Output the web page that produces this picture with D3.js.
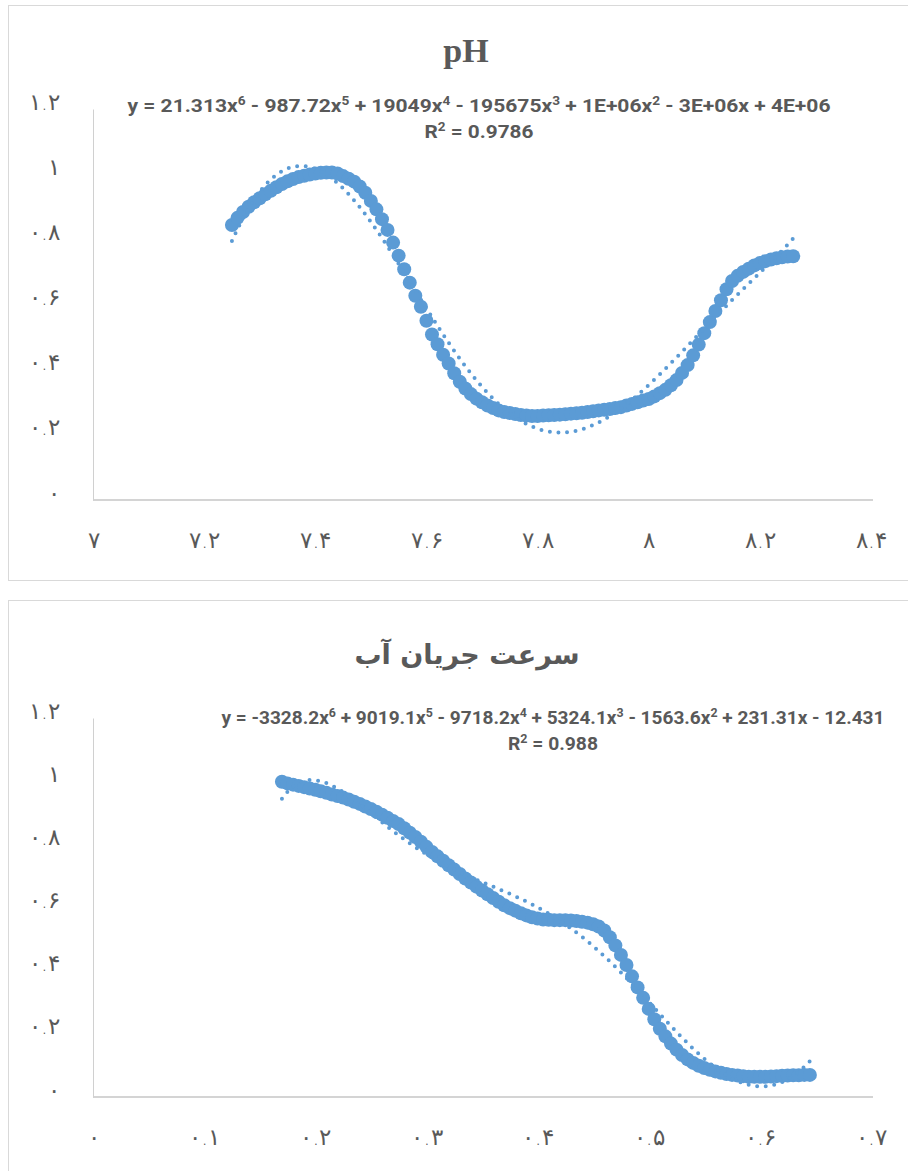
<!DOCTYPE html>
<html>
<head>
<meta charset="utf-8">
<script src="https://cdn.jsdelivr.net/npm/d3@7"></script>
<style>
  body { margin: 0; background: #fff; }
</style>
</head>
<body>
<div id="wrapper"></div>
<script>
// pH chart
const phX = [7.25,7.26,7.27,7.28,7.29,7.30,7.31,7.32,7.33,7.34,
  7.35,7.36,7.37,7.38,7.39,7.40,7.41,7.42,7.43,7.44,
  7.45,7.46,7.47,7.48,7.49,7.50,7.51,7.52,7.53,7.54,
  7.55,7.56,7.57,7.58,7.59,7.60,7.61,7.62,7.63,7.64,
  7.65,7.66,7.67,7.68,7.69,7.70,7.71,7.72,7.73,7.74,
  7.75,7.76,7.77,7.78,7.79,7.80,7.81,7.82,7.83,7.84,
  7.85,7.86,7.87,7.88,7.89,7.90,7.91,7.92,7.93,7.94,
  7.95,7.96,7.97,7.98,7.99,8.00,8.01,8.02,8.03,8.04,
  8.05,8.06,8.07,8.08,8.09,8.10,8.11,8.12,8.13,8.14,
  8.15,8.16,8.17,8.18,8.19,8.20,8.21,8.22,8.23,8.24,
  8.25,8.26]
const phY = [0.844,0.866,0.884,0.900,0.914,0.926,0.938,0.949,0.960,0.970,
  0.978,0.985,0.991,0.995,0.999,1.002,1.004,1.005,1.005,1.002,
  0.994,0.986,0.977,0.962,0.943,0.918,0.892,0.862,0.829,0.790,
  0.750,0.708,0.667,0.627,0.593,0.550,0.508,0.478,0.446,0.419,
  0.389,0.363,0.342,0.325,0.311,0.300,0.290,0.282,0.275,0.270,
  0.267,0.264,0.261,0.259,0.258,0.258,0.259,0.260,0.261,0.262,
  0.263,0.265,0.266,0.268,0.270,0.272,0.275,0.277,0.279,0.282,
  0.285,0.290,0.295,0.300,0.305,0.310,0.318,0.328,0.338,0.352,
  0.368,0.390,0.414,0.444,0.477,0.512,0.546,0.580,0.613,0.647,
  0.672,0.688,0.700,0.710,0.720,0.727,0.733,0.738,0.742,0.745,
  0.747,0.748]

// flow velocity chart
const flowX = [0.170,0.175,0.180,0.185,0.190,0.195,0.200,0.205,0.210,0.215,
  0.220,0.225,0.230,0.235,0.240,0.245,0.250,0.255,0.260,0.265,
  0.270,0.275,0.280,0.285,0.290,0.295,0.300,0.305,0.310,0.315,
  0.320,0.325,0.330,0.335,0.340,0.345,0.350,0.355,0.360,0.365,
  0.370,0.375,0.380,0.385,0.390,0.395,0.400,0.405,0.410,0.415,
  0.420,0.425,0.430,0.435,0.440,0.445,0.450,0.455,0.460,0.465,
  0.470,0.475,0.480,0.485,0.490,0.495,0.500,0.505,0.510,0.515,
  0.520,0.525,0.530,0.535,0.540,0.545,0.550,0.555,0.560,0.565,
  0.570,0.575,0.580,0.585,0.590,0.595,0.600,0.605,0.610,0.615,
  0.620,0.625,0.630,0.635,0.640,0.645]
const flowY = [0.998,0.993,0.989,0.985,0.981,0.977,0.973,0.968,0.963,0.958,
  0.953,0.948,0.942,0.935,0.928,0.920,0.912,0.903,0.894,0.884,
  0.874,0.864,0.851,0.837,0.823,0.808,0.792,0.776,0.762,0.748,
  0.734,0.720,0.706,0.692,0.679,0.666,0.654,0.642,0.630,0.618,
  0.607,0.598,0.590,0.582,0.575,0.569,0.565,0.562,0.561,0.560,
  0.560,0.560,0.559,0.557,0.555,0.552,0.547,0.540,0.527,0.506,
  0.480,0.450,0.418,0.382,0.347,0.314,0.279,0.246,0.216,0.192,
  0.169,0.150,0.133,0.119,0.108,0.099,0.092,0.086,0.081,0.077,
  0.073,0.070,0.068,0.066,0.064,0.064,0.064,0.064,0.065,0.066,
  0.067,0.068,0.069,0.069,0.070,0.070]

const yTicks = [0, 0.2, 0.4, 0.6, 0.8, 1, 1.2]
const phTicks = [7, 7.2, 7.4, 7.6, 7.8, 8, 8.2, 8.4]
const flowTicks = [0, 0.1, 0.2, 0.3, 0.4, 0.5, 0.6, 0.7]

const phTitle = 'pH'
const flowTitle = 'سرعت جریان آب'
const phEquation = 'y = 21.313x^6 - 987.72x^5 + 19049x^4 - 195675x^3 + 1E+06x^2 - 3E+06x + 4E+06'
const phR2 = 'R^2 = 0.9786'
const flowEquation = 'y = -3328.2x^6 + 9019.1x^5 - 9718.2x^4 + 5324.1x^3 - 1563.6x^2 + 231.31x - 12.431'
const flowR2 = 'R^2 = 0.988'

const width = 908
const height = 1171
const blue = '#5b9bd5'
const textColor = '#595959'

const svg = d3.select('#wrapper')
    .append('svg')
    .attr('width', width)
    .attr('height', height)
    .style('display', 'block')
    .style('background-color', '#fff')

const persianDigits = '۰۱۲۳۴۵۶۷۸۹'
const toPersian = (s) => s.replace(/\d/g, (c) => persianDigits[+c])
const tickFormat = (d) => toPersian(d3.format('~g')(d))

// least squares polynomial (same as excel's trendline), x normalised for stability
const polyfit = (xs, ys, deg) => {
    const mx = d3.mean(xs), sx = d3.deviation(xs)
    const n = deg + 1
    const A = d3.range(n).map(() => new Array(n + 1).fill(0))
    xs.forEach((x, i) => {
        const u = (x - mx) / sx
        const pw = d3.range(2 * n).map(k => Math.pow(u, k))
        for (let r = 0; r < n; r++) {
            for (let c = 0; c < n; c++) A[r][c] += pw[r + c]
            A[r][n] += pw[r] * ys[i]
        }
    })
    for (let c = 0; c < n; c++) {
        let p = c
        for (let r = c + 1; r < n; r++) if (Math.abs(A[r][c]) > Math.abs(A[p][c])) p = r
        ;[A[c], A[p]] = [A[p], A[c]]
        for (let r = 0; r < n; r++) {
            if (r === c) continue
            const f = A[r][c] / A[c][c]
            for (let k = c; k <= n; k++) A[r][k] -= f * A[c][k]
        }
    }
    const coef = d3.range(n).map(i => A[i][n] / A[i][i])
    return (x) => {
        const u = (x - mx) / sx
        return coef.reduce((s, c, k) => s + c * Math.pow(u, k), 0)
    }
}

const addRichText = (g, str, x, y, size, targetWidth) => {
    const t = g.append('text')
        .attr('x', x)
        .attr('y', y)
        .attr('text-anchor', 'middle')
        .attr('fill', textColor)
        .style('font-family', '"Liberation Sans Narrow", "Roboto", sans-serif')
        .style('font-weight', 'bold')
        .style('font-size', size + 'px')
    str.split(/\^(\d)/).forEach((part, i) => {
        if (i % 2 === 0) {
            t.append('tspan').text(part).attr('dy', i === 0 ? 0 : size * 0.38)
        } else {
            t.append('tspan').text(part).attr('dy', -size * 0.38).style('font-size', (size * 0.65) + 'px')
        }
    })
    t.attr('textLength', targetWidth).attr('lengthAdjust', 'spacingAndGlyphs')
}

const drawChart = (cfg) => {
    const g = svg.append('g')

    g.append('rect')
        .attr('x', 8.5)
        .attr('y', cfg.top + 0.5)
        .attr('width', 920)
        .attr('height', cfg.boxHeight)
        .attr('fill', '#fff')
        .attr('stroke', '#d9d9d9')

    const scaleX = d3.scaleLinear()
        .domain(cfg.xDomain)
        .range([93, 871])
    const scaleY = d3.scaleLinear()
        .domain([0, 1.2])
        .range([cfg.yBottom, cfg.yTop])

    // axes
    const xAxis = g.append('g')
        .attr('transform', `translate(0, ${cfg.yBottom})`)
        .call(d3.axisBottom(scaleX).tickValues(cfg.xTicks).tickFormat(tickFormat).tickSize(0).tickSizeOuter(0))
    xAxis.select('.domain').attr('stroke', '#c6c6c6').attr('stroke-width', 1.5)
        .attr('d', `M93,0H873`)
    xAxis.selectAll('text')
        .attr('y', 40)
        .attr('dy', '0.35em')

    const yAxis = g.append('g')
        .attr('transform', 'translate(93, 0)')
        .call(d3.axisLeft(scaleY).tickValues(yTicks).tickFormat(tickFormat).tickSize(0).tickSizeOuter(0))
    yAxis.select('.domain').attr('stroke', '#d0d0d0').attr('stroke-width', 1)
    yAxis.selectAll('text')
        .attr('x', -33)
        .attr('dy', '0em')

    g.selectAll('.tick text')
        .attr('fill', textColor)
        .style('font-family', '"DejaVu Sans", sans-serif')
        .style('font-weight', 300)
        .style('font-size', '23px')

    // points
    const points = cfg.xs.map((x, i) => ({ x, y: cfg.ys[i] }))
    g.append('g')
        .selectAll('circle')
        .data(points)
        .join('circle')
        .attr('cx', d => scaleX(d.x))
        .attr('cy', d => scaleY(d.y))
        .attr('r', 7)
        .attr('fill', blue)

    // polynomial trendline, order 6
    const fit = polyfit(cfg.xs, cfg.ys, 6)
    const [x0, x1] = d3.extent(cfg.xs)
    const samples = d3.range(0, 301).map(k => x0 + (x1 - x0) * k / 300)
    g.append('path')
        .attr('d', d3.line().x(d => scaleX(d)).y(d => scaleY(fit(d)))(samples))
        .attr('fill', 'none')
        .attr('stroke', blue)
        .attr('stroke-width', 4)
        .attr('stroke-linecap', 'round')
        .attr('stroke-dasharray', '0 8.6')

    // title
    g.append('text')
        .text(cfg.title)
        .attr('x', cfg.titleX)
        .attr('y', cfg.titleY)
        .attr('text-anchor', 'middle')
        .attr('fill', textColor)
        .style('font-family', cfg.titleFont)
        .style('font-weight', 'bold')
        .style('font-size', cfg.titleSize + 'px')

    addRichText(g, cfg.equation, cfg.eqX, cfg.eqY, 19, cfg.eqWidth)
    addRichText(g, cfg.r2, cfg.eqX, cfg.eqY + 26, 19, cfg.r2Width)
}

drawChart({
    top: 5, boxHeight: 575, yBottom: 500, yTop: 109,
    xs: phX, ys: phY, xDomain: [7, 8.4], xTicks: phTicks,
    title: phTitle, titleX: 466, titleY: 62, titleSize: 34,
    titleFont: '"Liberation Serif", "DejaVu Serif", serif',
    equation: phEquation, r2: phR2, eqX: 479, eqY: 112, eqWidth: 703, r2Width: 109,
})

drawChart({
    top: 600, boxHeight: 600, yBottom: 1097, yTop: 718,
    xs: flowX, ys: flowY, xDomain: [0, 0.7], xTicks: flowTicks,
    title: flowTitle, titleX: 467, titleY: 664, titleSize: 27,
    titleFont: '"DejaVu Sans", sans-serif',
    equation: flowEquation, r2: flowR2, eqX: 553, eqY: 724, eqWidth: 663, r2Width: 90,
})
</script>
</body>
</html>
